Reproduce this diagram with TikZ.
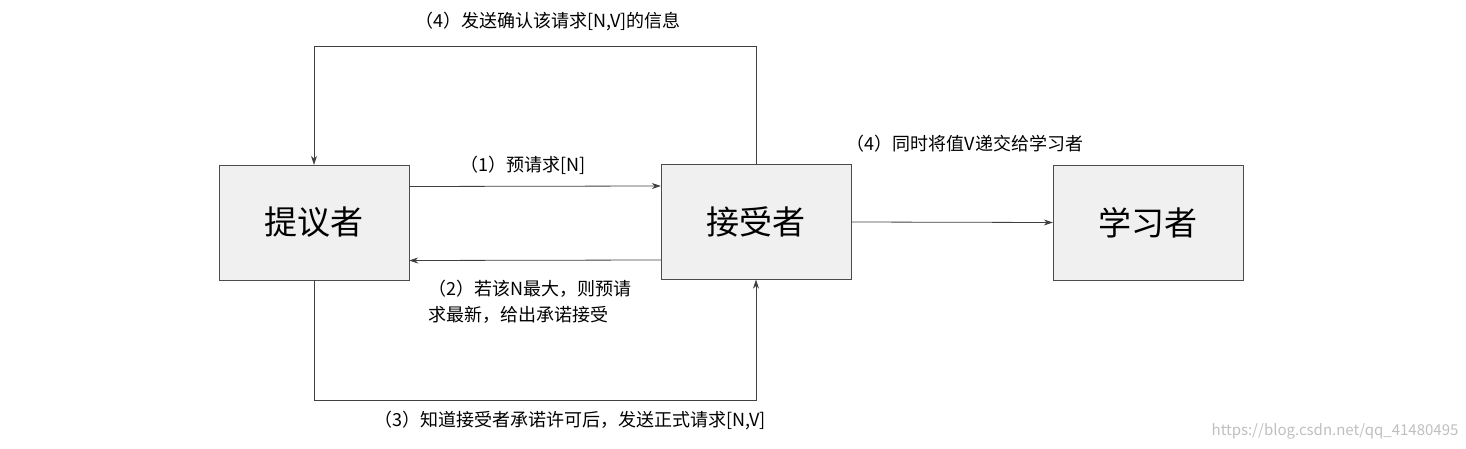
\documentclass[tikz,border=0pt]{standalone}
\usepackage{fontspec}
\setmainfont{Noto Sans CJK SC}
\usetikzlibrary{arrows.meta}
\begin{document}
\begin{tikzpicture}[x=1pt,y=-1pt,
  box/.style={draw=black!70,fill=black!6,minimum width=190pt,minimum height=115pt,font=\fontsize{33}{36}\selectfont,inner sep=0pt},
  lab/.style={font=\fontsize{18}{26}\selectfont,inner sep=0pt,align=left},
  conn/.style={draw=black!75,line width=0.8pt,-{Stealth[length=9pt,width=6pt]}}]
\useasboundingbox (0,0) rectangle (1466,449);
\node[box] (p) at (314,222.5) {提议者};
\node[box] (a) at (756,222) {接受者};
\node[box] (l) at (1148,222.5) {学习者};
\coordinate (pt1) at (314,46);
\coordinate (pt2) at (756,46);
\coordinate (pb1) at (314,400);
\coordinate (pb2) at (756,400);
\draw[conn] ([yshift=36pt]p.east) -- ([yshift=36pt]a.west);
\draw[conn] ([yshift=-38pt]a.west) -- ([yshift=-38pt]p.east);
\draw[conn] (a.north) -- (pt2) -- (pt1) -- (p.north);
\draw[conn] (p.south) -- (pb1) -- (pb2) -- (a.south);
\draw[conn] (a.east) -- (l.west);
\node[lab] (t4a) at (548,22) {（4）发送确认该请求[N,V]的信息};
\node[lab] (t1) at (523,165) {（1）预请求[N]};
\node[lab,anchor=north west] (t2) at (428,280) {（2）若该N最大，则预请\\求最新，给出承诺接受};
\node[lab] (t3) at (570,421) {（3）知道接受者承诺许可后，发送正式请求[N,V]};
\node[lab] (t4b) at (965,144) {（4）同时将值V递交给学习者};
\node[lab,text=black!25,font=\fontsize{15}{18}\selectfont] (wm) at (1335,431) {https://blog.csdn.net/qq\_41480495};
\end{tikzpicture}
\end{document}
